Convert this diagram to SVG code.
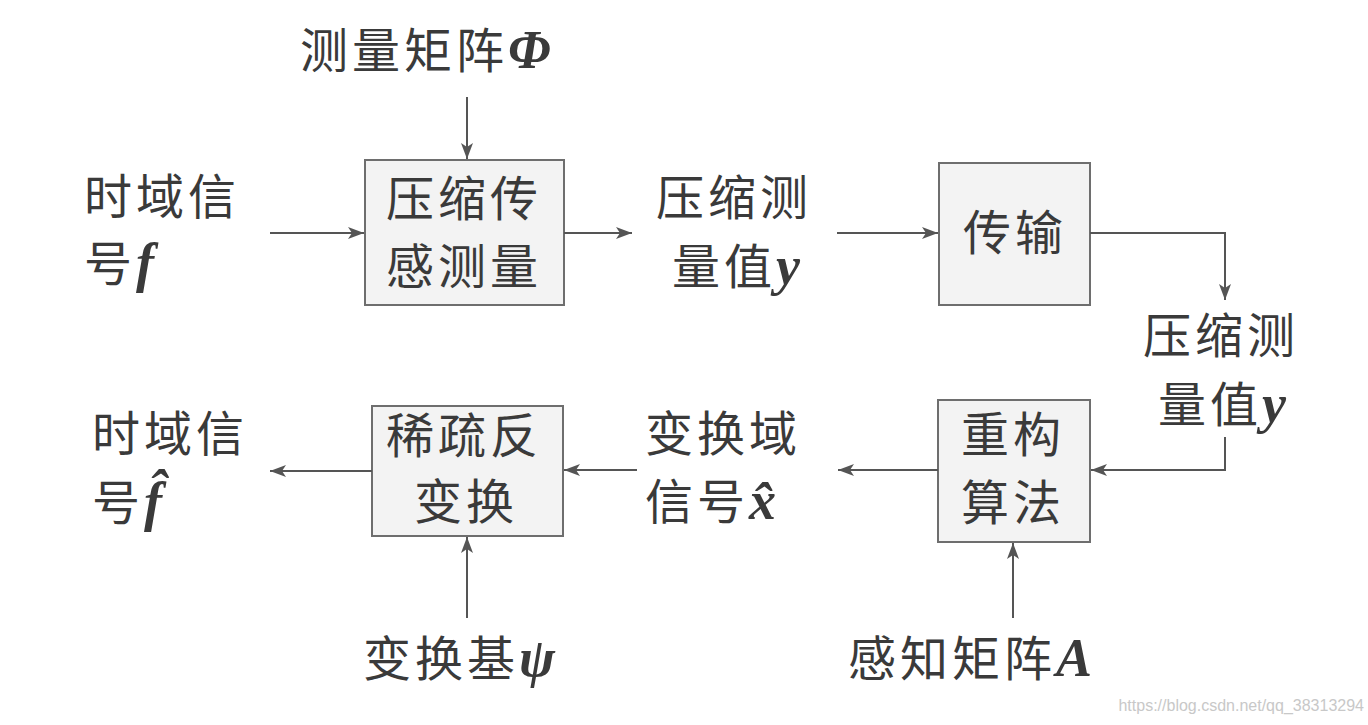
<svg xmlns="http://www.w3.org/2000/svg" width="1368" height="725" viewBox="0 0 1368 725">
<defs>
<style>
.bx{fill:#f3f3f3;stroke:#6e6e6e;stroke-width:2}
.t{font-family:"Noto Sans CJK SC","Noto Sans CJK JP",sans-serif;font-size:48px;fill:#3a3a3a;letter-spacing:4px}
.m{font-family:"Liberation Serif","DejaVu Serif",serif;font-style:italic;font-weight:bold;font-size:54px;letter-spacing:0}
.c{fill:none;stroke:#555;stroke-width:2}
.wm{font-family:"Liberation Sans",sans-serif;font-size:16px;fill:#c8c8c8}
</style>
<marker id="ah" markerUnits="userSpaceOnUse" markerWidth="18" markerHeight="12" refX="16" refY="6" orient="auto">
<path d="M0,0 L16,6 L0,12 L4,6 Z" fill="#555"/>
</marker>
</defs>
<rect width="1368" height="725" fill="#fff"/>

<g id="lbl-phi"><text class="t" x="300" y="68">测量矩阵<tspan class="m">Φ</tspan></text></g>
<g id="lbl-f"><text class="t" x="84" y="214">时域信</text><text class="t" x="84" y="281">号<tspan class="m">f</tspan></text></g>
<g id="n-cs"><rect class="bx" x="365" y="160" width="199" height="145"/><text class="t" x="386" y="216">压缩传</text><text class="t" x="386" y="284">感测量</text></g>
<g id="lbl-y1"><text class="t" x="656" y="215">压缩测</text><text class="t" x="672" y="284">量值<tspan class="m">y</tspan></text></g>
<g id="n-tx"><rect class="bx" x="939" y="163" width="151" height="142"/><text class="t" x="963" y="250">传输</text></g>
<g id="lbl-y2"><text class="t" x="1143" y="353">压缩测</text><text class="t" x="1158" y="422">量值<tspan class="m">y</tspan></text></g>
<g id="n-rec"><rect class="bx" x="938" y="400" width="152" height="142"/><text class="t" x="961" y="452">重构</text><text class="t" x="961" y="520">算法</text></g>
<g id="lbl-x"><text class="t" x="645" y="451">变换域</text><text class="t" x="645" y="519">信号<tspan class="m">x̂</tspan></text></g>
<g id="n-inv"><rect class="bx" x="372" y="406" width="191" height="130"/><text class="t" x="386" y="453">稀疏反</text><text class="t" x="414" y="519">变换</text></g>
<g id="lbl-fhat"><text class="t" x="92" y="451">时域信</text><text class="t" x="92" y="520">号<tspan class="m">f̂</tspan></text></g>
<g id="lbl-psi"><text class="t" x="363" y="676">变换基<tspan class="m">ψ</tspan></text></g>
<g id="lbl-A"><text class="t" x="848" y="676">感知矩阵<tspan class="m">A</tspan></text></g>

<g id="connectors">
<path class="c" d="M270,233 H364" marker-end="url(#ah)"/>
<path class="c" d="M467,97 V159" marker-end="url(#ah)"/>
<path class="c" d="M564,233 H632" marker-end="url(#ah)"/>
<path class="c" d="M837,233 H938" marker-end="url(#ah)"/>
<path class="c" d="M1090,233 H1225 V300" marker-end="url(#ah)"/>
<path class="c" d="M1225,437 V470 H1091" marker-end="url(#ah)"/>
<path class="c" d="M938,470 H838" marker-end="url(#ah)"/>
<path class="c" d="M637,470 H564" marker-end="url(#ah)"/>
<path class="c" d="M372,471 H270" marker-end="url(#ah)"/>
<path class="c" d="M467,618 V537" marker-end="url(#ah)"/>
<path class="c" d="M1013,618 V543" marker-end="url(#ah)"/>
</g>
<text class="wm" x="1364" y="711" text-anchor="end">https://blog.csdn.net/qq_38313294</text>
</svg>
